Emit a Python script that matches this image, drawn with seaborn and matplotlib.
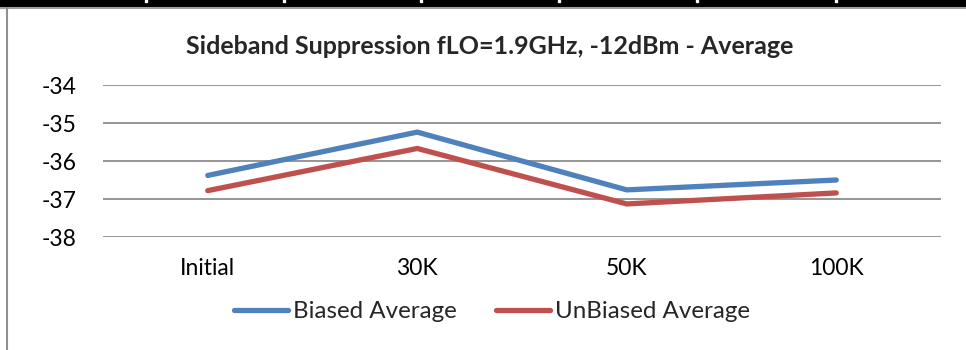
import matplotlib
matplotlib.use("Agg")
import matplotlib.pyplot as plt
import seaborn as sns
import pandas as pd
from matplotlib.patches import Rectangle
from matplotlib.lines import Line2D

categories = ["Initial", "30K", "50K", "100K"]
biased = [-36.38, -35.24, -36.76, -36.50]
unbiased = [-36.78, -35.67, -37.13, -36.84]
series_names = ["Biased Average", "UnBiased Average"]
yticks = [-34, -35, -36, -37, -38]

sns.set_theme(style="white")
plt.rcParams['font.family'] = ['Lato', 'DejaVu Sans']

df = pd.DataFrame({
    "cat": categories * 2,
    "value": biased + unbiased,
    "series": [series_names[0]] * 4 + [series_names[1]] * 4,
})

W, H = 966, 350
fig = plt.figure(figsize=(W / 100, H / 100), dpi=100)
ax = fig.add_axes([103 / W, 1 - 237 / H, (941 - 103) / W, (237 - 85) / H])

palette = {series_names[0]: "#4F81BD", series_names[1]: "#C0504D"}
sns.lineplot(data=df, x="cat", y="value", hue="series", palette=palette,
             sort=False, linewidth=3.8, ax=ax, legend=False,
             solid_capstyle="round", solid_joinstyle="miter", zorder=3)

ax.set_xlim(-0.5, 3.5)
ax.set_ylim(-38, -34)
ax.set_yticks(yticks)
ax.set_yticklabels([str(t) for t in yticks], fontsize=16.5)
ax.set_xticks(range(len(categories)))
ax.set_xticklabels(categories, fontsize=16.5)
ax.set_xlabel("")
ax.set_ylabel("")
ax.tick_params(axis="both", length=0, colors="black")
ax.tick_params(axis="y", pad=19)
ax.tick_params(axis="x", pad=15)
for y in yticks:
    ax.axhline(y, color="#8C8C8C", linewidth=1.3, zorder=1)
for s in ax.spines.values():
    s.set_visible(False)
ax.set_facecolor("none")

fig.text(490 / W, 1 - 47 / H, "Sideband Suppression fLO=1.9GHz, -12dBm - Average",
         ha="center", va="center", fontsize=18, fontweight="bold")

handles = [Line2D([], [], color=palette[n], linewidth=3.8, solid_capstyle="round") for n in series_names]
fig.legend(handles, series_names, loc="center", bbox_to_anchor=(492 / W, 1 - 312 / H),
           ncol=2, frameon=False, fontsize=17.4, handlelength=2.23, handletextpad=0.2,
           columnspacing=1.65, borderpad=0)

# document frame decorations
fig.patches.append(Rectangle((0, 1 - 7 / H), 1, 7 / H, transform=fig.transFigure,
                             color="black", zorder=0))
for nx in [145, 283, 420, 558, 696, 835]:
    fig.patches.append(Rectangle((nx / W, 1 - 2 / H), 2 / W, 2 / H, transform=fig.transFigure,
                                 color="white", zorder=1))
fig.lines.append(Line2D([0, 1], [1 - 8 / H, 1 - 8 / H], transform=fig.transFigure,
                        color="#A0A0A0", linewidth=1.5))
fig.lines.append(Line2D([6.5 / W, 6.5 / W], [0, 1 - 8 / H], transform=fig.transFigure,
                        color="#909090", linewidth=1.5))

fig.savefig("out.png", dpi=100)
